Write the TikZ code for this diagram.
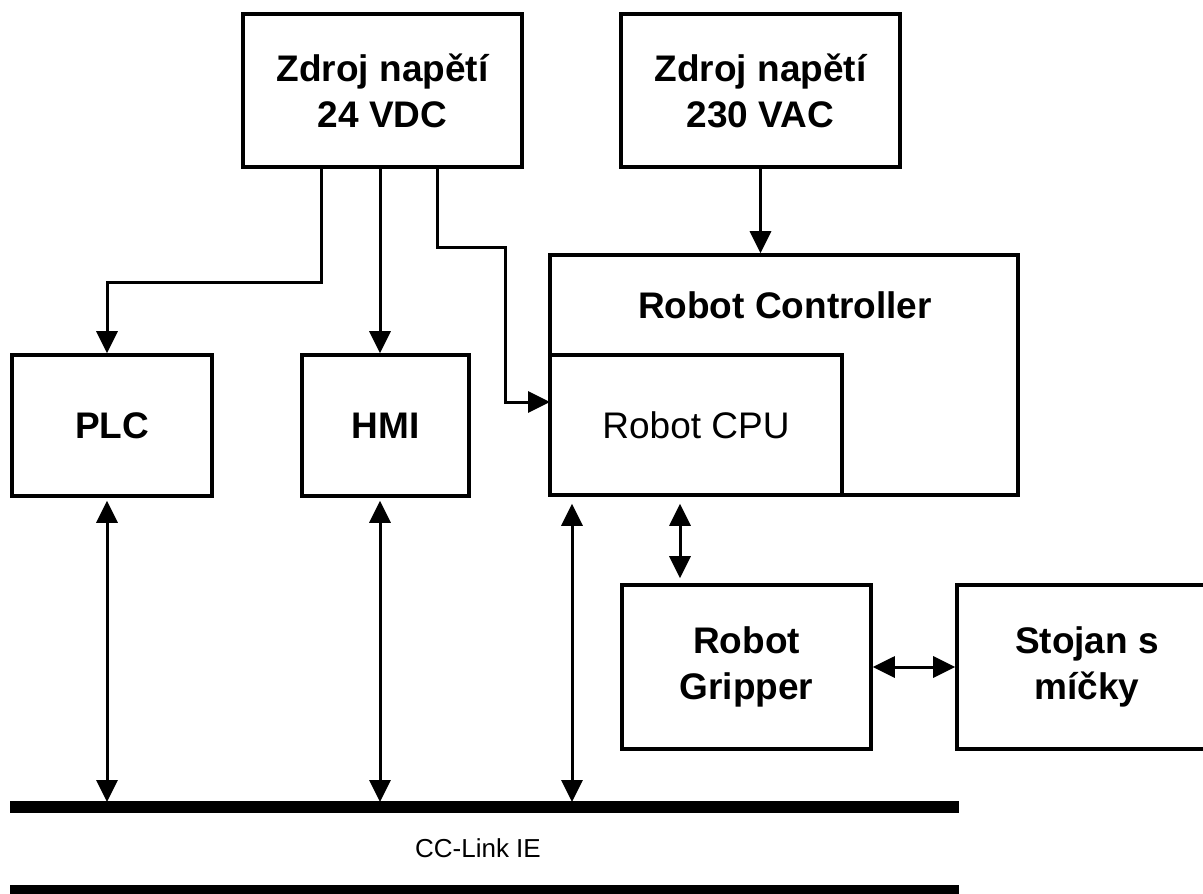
\documentclass[tikz,border=0pt]{standalone}
\usepackage{fontspec}
\setmainfont{Liberation Sans}
\usetikzlibrary{arrows.meta,positioning}

\begin{document}
\begin{tikzpicture}[
    x=0.5pt, y=-0.5pt,
    font=\fontsize{18.5}{23}\selectfont\bfseries,
    block/.style={rectangle,draw,line width=1.8pt,align=center,inner sep=0pt},
    line/.style={draw,line width=1.5pt,-{Triangle[length=11pt,width=10.5pt]}},
    both/.style={draw,line width=1.5pt,{Triangle[length=11pt,width=10.5pt]}-{Triangle[length=11pt,width=10.5pt]}},
    bus/.style={draw,line width=5.8pt}]

    \clip (0,0) rectangle (1203,893);

    % Power supplies
    \node[block, minimum width=139.5pt, minimum height=76.5pt] (vdc) at (382.5,90.5) {Zdroj napětí\\24 VDC};
    \node[block, minimum width=139.5pt, minimum height=76.5pt] (vac) at (760.5,90.5) {Zdroj napětí\\230 VAC};

    % Robot controller with its CPU
    \node[block, minimum width=234pt, minimum height=120pt] (ctrl) at (784,375) {};
    \node (ctrllabel) at (785,305) {Robot Controller};
    \node[block, minimum width=146pt, minimum height=70pt, font=\fontsize{18.5}{23}\selectfont] (cpu) at (696,425) {Robot CPU};

    % Devices
    \node[block, minimum width=100pt, minimum height=70.5pt] (plc) at (112,425.5) {PLC};
    \node[block, minimum width=83.5pt, minimum height=70.5pt] (hmi) at (385.5,425.5) {HMI};
    \node[block, minimum width=124.5pt, minimum height=82pt] (grip) at (746.5,667) {Robot\\Gripper};
    \node[block, minimum width=130pt, minimum height=82pt] (stojan) at (1087,667) {Stojan s\\míčky};

    % CC-Link IE bus
    \coordinate (busw) at (10,807);
    \coordinate (buse) at (959,807);
    \coordinate (busw2) at (10,891);
    \coordinate (buse2) at (959,891);
    \coordinate (bustop) at (0,802);
    \path[bus] (busw) -- (buse);
    \path[bus] (busw2) -- (buse2);
    \node[font=\fontsize{13}{15}\selectfont] (cclink) at (478,848) {CC-Link IE};

    % Helper points
    \coordinate (plcturn) at (321,282);
    \coordinate (plcx) at (107,0);
    \coordinate (hmix) at (380,0);
    \coordinate (cputurn) at (437,247);
    \coordinate (cpuin) at (550,402);
    \coordinate (ctrlx) at (572,0);
    \coordinate (gripx) at (680,0);

    % Power connections
    \path[line] (vdc.south -| plcturn) -- (plcturn) -| (plcx |- plc.north);
    \path[line] (vdc.south -| hmix) -- (hmix |- hmi.north);
    \path[line] (vdc.south -| cputurn) -- (cputurn) -- ++(68,0) |- (cpuin);
    \path[line] (vac.south) -- (ctrl.north -| vac.south);

    % Data connections
    \path[both, shorten <=1.5pt] (plcx |- plc.south) -- (plcx |- bustop);
    \path[both, shorten <=1.5pt] (hmix |- hmi.south) -- (hmix |- bustop);
    \path[both, shorten <=3.5pt] (ctrlx |- ctrl.south) -- (ctrlx |- bustop);
    \path[both, shorten <=3.5pt, shorten >=2.5pt] (gripx |- cpu.south) -- (gripx |- grip.north);
    \path[both] (grip.east) -- (stojan.west);
\end{tikzpicture}
\end{document}
